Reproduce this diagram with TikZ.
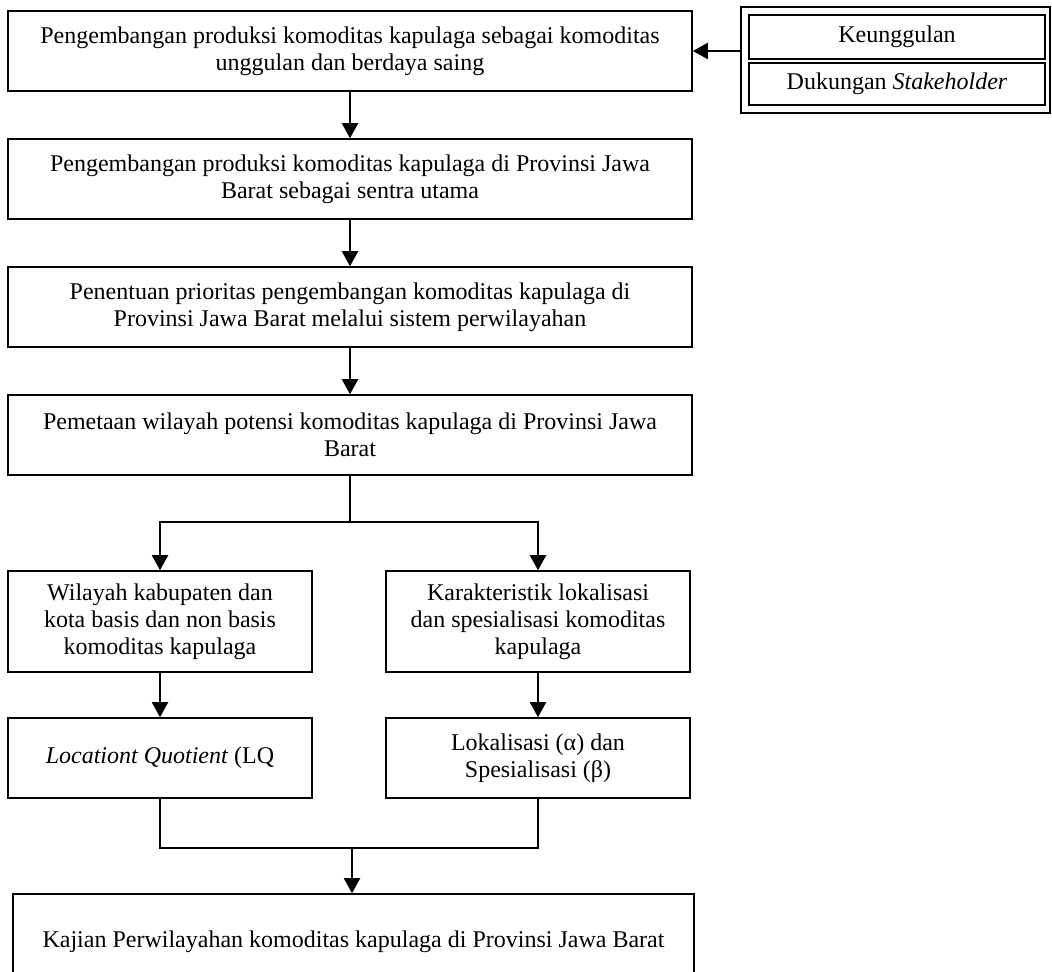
\documentclass[tikz,border=0pt]{standalone}
\usepackage{fontspec}
\setmainfont{Liberation Serif}
\usetikzlibrary{arrows.meta}

\begin{document}
\begin{tikzpicture}[x=0.5pt,y=-0.5pt]

\useasboundingbox (0,0) rectangle (1052,971);

\tikzset{FlowBox/.style={rectangle, draw, line width=0.8pt, fill=white, align=center,
    font=\fontsize{12pt}{13.5pt}\selectfont, inner sep=0pt}}

\begin{scope}[every node/.style={FlowBox}]
    % Main column
    \node (P1) at (350,51) [minimum width=342pt, minimum height=40pt]
        {Pengembangan produksi komoditas kapulaga sebagai komoditas\\unggulan dan berdaya saing};
    \node (P2) at (350,179) [minimum width=342pt, minimum height=40pt]
        {Pengembangan produksi komoditas kapulaga di Provinsi Jawa\\Barat sebagai sentra utama};
    \node (P3) at (350,307) [minimum width=342pt, minimum height=40pt]
        {Penentuan prioritas pengembangan komoditas kapulaga di\\Provinsi Jawa Barat melalui sistem perwilayahan};
    \node (P4) at (350,435) [minimum width=342pt, minimum height=40pt]
        {Pemetaan wilayah potensi komoditas kapulaga di Provinsi Jawa\\Barat};

    % Two branches
    \node (W) at (160,621.5) [minimum width=152pt, minimum height=50.5pt]
        {Wilayah kabupaten dan\\kota basis dan non basis\\komoditas kapulaga};
    \node (K) at (538,621.5) [minimum width=152pt, minimum height=50.5pt]
        {Karakteristik lokalisasi\\dan spesialisasi komoditas\\kapulaga};
    \node (LQ) at (160,758) [minimum width=152pt, minimum height=40pt]
        {\textit{Locationt Quotient} (LQ};
    \node (LS) at (538,758) [minimum width=152pt, minimum height=40pt]
        {Lokalisasi (α) dan\\Spesialisasi (β)};

    % Result
    \node (KJ) at (353.5,942) [minimum width=340.5pt, minimum height=48pt]
        {Kajian Perwilayahan komoditas kapulaga di Provinsi Jawa Barat};

    % Right double box
    \node (SB) at (895.5,60) [minimum width=154.5pt, minimum height=53pt] {};
    \node (K1) at (897,37) [minimum width=148pt, minimum height=22pt] {Keunggulan};
    \node (K2) at (897,84) [minimum width=148pt, minimum height=21pt] {Dukungan \textit{Stakeholder}};
\end{scope}

\coordinate (J1) at (350,522);
\coordinate (J2) at (352,848);

\begin{scope}[>={Triangle[length=7.5pt,width=8pt]}, line width=1pt]
    \path [->] (P1) edge (P2);
    \path [->] (P2) edge (P3);
    \path [->] (P3) edge (P4);

    % Split
    \draw (P4) -- (J1);
    \draw [->] (J1) -| (W);
    \draw [->] (J1) -| (K);

    \path [->] (W) edge (LQ);
    \path [->] (K) edge (LS);

    % Merge
    \draw (LQ) |- (J2);
    \draw (LS) |- (J2);
    \draw [->] (J2) -- (J2 |- KJ.north);

    \draw [->] (SB.west |- P1.east) -- (P1.east);
\end{scope}

\end{tikzpicture}
\end{document}
